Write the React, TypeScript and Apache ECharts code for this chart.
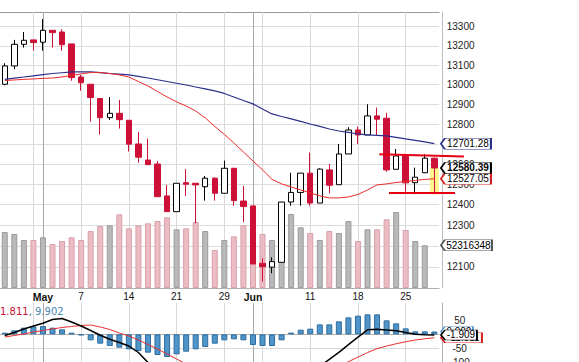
import React, { useEffect, useRef } from "react";
import * as echarts from "echarts";

const dates = ["04-25","04-26","04-27","04-30","05-01","05-02","05-03","05-04","05-07","05-08","05-09","05-10","05-11","05-14","05-15","05-16","05-17","05-18","05-21","05-22","05-23","05-24","05-25","05-29","05-30","05-31","06-01","06-04","06-05","06-06","06-07","06-08","06-11","06-12","06-13","06-14","06-15","06-18","06-19","06-20","06-21","06-22","06-25","06-26","06-27","06-28"];

const opens = [13002,13096,13208,13231,13219,13281,13272,13210,13039,13002,12929,12832,12854,12819,12700,12620,12600,12443,12366,12508,12505,12488,12530,12456,12579,12418,12394,12117,12099,12122,12413,12460,12555,12408,12571,12498,12650,12770,12745,12841,12829,12574,12645,12508,12557,12629];
const closes = [13096,13208,13229,13217,13281,13269,13206,13036,13010,12934,12832,12854,12822,12699,12634,12597,12439,12366,12505,12500,12497,12530,12456,12579,12420,12391,12114,12101,12125,12413,12460,12555,12408,12575,12495,12650,12770,12745,12841,12824,12571,12640,12507,12535,12629,12580.39];
const lows = [12997,13079,13191,13175,13175,13191,13175,13020,12969,12812,12747,12821,12777,12662,12607,12597,12439,12366,12366,12443,12310,12420,12420,12456,12395,12315,12114,12030,12070,12122,12395,12395,12395,12408,12456,12498,12650,12700,12745,12745,12562,12574,12464,12451,12557,12451];
const highs = [13110,13231,13272,13231,13340,13281,13286,13210,13050,13002,12929,12937,12922,12819,12760,12727,12615,12497,12505,12575,12505,12541,12535,12617,12579,12492,12394,12141,12146,12413,12557,12555,12657,12579,12600,12700,12784,12787,12900,12883,12857,12675,12645,12582,12649,12632];

const volumes = [68600000,66200000,58800000,58800000,62100000,53900000,57600000,62100000,58800000,69800000,76000000,76800000,90300000,73100000,76800000,79300000,82100000,86600000,71900000,73100000,80900000,69800000,46600000,58800000,63300000,77200000,73500000,66200000,58800000,82400000,90700000,74400000,67400000,58800000,69800000,67400000,82100000,57600000,71900000,71900000,84200000,93100000,71100000,57600000,52316348,null];

const maSlow = [13027,13033,13039,13045,13051,13057,13061,13065,13066,13065,13062,13057,13054,13050,13042,13034,13025,13016,13007,12998,12988,12978,12968,12955,12937,12919,12902,12876,12851,12838,12826,12813,12800,12788,12775,12765,12758,12750,12745,12743,12740,12733,12725,12718,12710,12701.28];
const maFast = [13021,13024,13027,13029,13032,13034,13039,13047,13055,13062,13062,13057,13050,13039,13016,12993,12965,12937,12912,12891,12866,12831,12788,12748,12705,12660,12615,12571,12524,12502,12487,12472,12458,12443,12433,12433,12438,12450,12472,12497,12502,12509,12514,12519,12524,12527.05];

const macdLine = [-4,6.5,18.8,29.3,38.8,52.1,55.6,43.3,29.3,13.5,-3,-17,-28.6,-40.9,-63.7,-98.8,-124,-148,-157,-165,-169,-170,-166,-158,-157,-165,-187,-197,-201,-182,-158,-144,-130,-112,-88,-63,-36,-10,16,18,15,12.5,6.5,0.5,-1,-1.909];
const signalLine = [-9.3,-4,1.2,8.2,13.5,18.8,24,27.5,31,32.8,25.8,17,4.7,-5.8,-19.8,-35.6,-51.4,-69,-86.5,-104,-116,-126,-133,-137,-140,-144,-150,-156,-160,-161,-159,-154,-146,-136,-122,-109,-96,-80,-64,-50,-41,-33,-26,-20,-15.5,-11.811];
const histogram = [5.8,14,23.4,28,29.2,23.4,17.5,5.8,-3.5,-21,-32.7,-40.9,-46.8,-52.6,-58.5,-64.3,-72.5,-79.5,-70.2,-60.8,-52.6,-44.4,-32.7,-21,-17.5,-21,-37.4,-40.9,-40.9,-21,6,16.4,19.9,35,35,45.6,59.6,65.5,70.2,70.2,49.1,38.6,21,10.5,10.5,9.902];

const tickDates = ["05-01","05-07","05-14","05-21","05-29","06-01","06-11","06-18","06-25"];
const tickLabels = ["May","7","14","21","29","Jun","11","18","25"];
const monthDates = ["05-01","06-01"];
const weekDates = ["04-30","05-07","05-14","05-21","05-29","06-04","06-11","06-18","06-25"];
const priceGridTicks = [12100,12200,12300,12400,12500,12600,12700,12800,12900,13000,13100,13200,13300];
const priceLabelTicks = [12100,12300,12400,12500,12600,12800,12900,13000,13100,13200,13300];
const macdLabelTicks = [50,-50,-100];
const macdGridTicks = [0,-50,-100];

const PRICE_MIN = 12000;
const PRICE_MAX = 13377;
const VOL_MAX = 338200000;
const MACD_MIN = -120;
const MACD_MAX = 110;

const trendLines = [
  { from: [39.24, 12649], to: [48.1, 12637] },
  { from: [40.25, 12457], to: [47.17, 12457] },
];
const highlight = { index: 45, top: 12580.39, bottom: 12451 };

const FONT = "'Liberation Sans', Arial, Helvetica, sans-serif";
const GRID_W = 439.1;
const TIP_DX = 6.6;

function tag(coord: any[], text: string, W: number, H: number, border: string, bold = false) {
  return {
    coord,
    symbol: `path://M0 ${H / 2} L4 0 L${W} 0 L${W} ${H} L4 ${H} Z`,
    symbolSize: [W, H],
    symbolOffset: [TIP_DX + W / 2, 0],
    itemStyle: { color: "#fff", borderColor: border, borderWidth: 1 },
    label: {
      show: true,
      position: "inside",
      formatter: text,
      color: "#000",
      fontSize: 10,
      fontFamily: FONT,
      fontWeight: bold ? "bold" : "normal",
      offset: [2, 0],
    },
  };
}

function vLines() {
  return {
    silent: true,
    z: 1,
    symbol: ["none", "none"],
    label: { show: false },
    data: [
      ...weekDates.map((d) => ({ xAxis: d, lineStyle: { color: "#d9d9d9", width: 1, type: "solid" } })),
      ...monthDates.map((d) => ({ xAxis: d, lineStyle: { color: "#a8a8a8", width: 1, type: "solid" } })),
    ],
  };
}

export default function App() {
  const ref = useRef<HTMLDivElement>(null);
  useEffect(() => {
    const el = ref.current!;
    const chart = echarts.init(el, null, { renderer: "svg" });
    const ln = Math.log;
    const last = dates[dates.length - 1];
    const upVol = { color: "#b9b9b9", borderColor: "#9c9c9c", borderWidth: 1 };
    const downVol = { color: "#ebbcc3", borderColor: "#d8a1aa", borderWidth: 1 };
    const candleData = dates.map((_, i) => [ln(opens[i]), ln(closes[i]), ln(lows[i]), ln(highs[i])]);
    const volData = volumes.map((v, i) =>
      v == null ? null : { value: v, itemStyle: closes[i] >= opens[i] ? upVol : downVol }
    );
    const lastVol = volumes[volumes.length - 2] as number;

    const option: any = {
      animation: false,
      backgroundColor: "#fff",
      textStyle: { fontFamily: FONT },
      grid: [
        { left: 0, top: 12, width: GRID_W, height: 276, outerBoundsMode: "none", containLabel: false },
        { left: 0, top: 303, width: GRID_W, height: (MACD_MAX - MACD_MIN) * 0.285, outerBoundsMode: "none", containLabel: false },
      ],
      xAxis: [
        {
          type: "category", gridIndex: 0, data: dates, boundaryGap: true,
          axisLine: { show: true, lineStyle: { color: "#b0b0b0" } },
          axisTick: { show: false },
          splitLine: { show: false },
          axisLabel: {
            interval: (_i: number, v: string) => tickDates.includes(v),
            formatter: (v: string) => {
              const k = tickDates.indexOf(v);
              if (k < 0) return "";
              return monthDates.includes(v) ? `{m|${tickLabels[k]}}` : tickLabels[k];
            },
            rich: { m: { fontWeight: "bold", fontSize: 10.5, color: "#111", fontFamily: FONT } },
            margin: 3, fontSize: 10, color: "#111", fontFamily: FONT,
          },
        },
        {
          type: "category", gridIndex: 0, position: "top", data: dates,
          axisLine: { show: true, lineStyle: { color: "#9a9a9a" } },
          axisTick: { show: false }, axisLabel: { show: false }, splitLine: { show: false },
        },
        {
          type: "category", gridIndex: 1, position: "top", data: dates,
          axisLine: { show: true, lineStyle: { color: "#b0b0b0" } },
          axisTick: { show: false }, axisLabel: { show: false }, splitLine: { show: false },
        },
      ],
      yAxis: [
        {
          type: "value", gridIndex: 0, position: "right", offset: 3.6,
          min: ln(PRICE_MIN), max: ln(PRICE_MAX),
          axisLine: { show: true, lineStyle: { color: "#bdbdbd" } },
          axisTick: { show: false, customValues: priceGridTicks.map(ln) },
          axisLabel: {
            customValues: priceLabelTicks.map(ln),
            formatter: (v: number) => String(Math.round(Math.exp(v))),
            margin: 4, fontSize: 10, color: "#222", fontFamily: FONT,
          },
          splitLine: { show: true, lineStyle: { color: "#dcdcdc", width: 1 } },
        },
        {
          type: "value", gridIndex: 0, min: 0, max: VOL_MAX, show: false,
          splitLine: { show: false },
        },
        {
          type: "value", gridIndex: 1, position: "right", offset: 3.6,
          min: MACD_MIN, max: MACD_MAX,
          axisLine: { show: true, lineStyle: { color: "#b0b0b0" } },
          axisTick: { show: false, customValues: macdGridTicks },
          axisLabel: {
            customValues: macdLabelTicks,
            align: "center", margin: 17, fontSize: 10, color: "#222", fontFamily: FONT,
          },
          splitLine: { show: true, lineStyle: { color: "#d6d6d6", width: 1 } },
        },
      ],
      series: [
        {
          type: "line", xAxisIndex: 0, yAxisIndex: 0, data: dates.map(() => null),
          showSymbol: false, silent: true, markLine: vLines(),
        },
        {
          type: "bar", xAxisIndex: 0, yAxisIndex: 1, data: volData, barWidth: 6, silent: true,
          markPoint: { z: 5, symbolKeepAspect: false, data: [tag([last, lastVol], String(lastVol), 51, 11, "#555")] },
        },
        {
          type: "candlestick", xAxisIndex: 0, yAxisIndex: 0, data: candleData, barWidth: 6, silent: true,
          itemStyle: { color: "#ffffff", color0: "#cc1037", borderColor: "#000000", borderColor0: "#cc1037", borderWidth: 1 },
          markPoint: { z: 6, symbolKeepAspect: false, data: [tag([last, ln(closes[closes.length - 1])], closes[closes.length - 1].toFixed(2), 50, 11, "#000", true)] },
        },
        {
          type: "line", xAxisIndex: 0, yAxisIndex: 0, data: maSlow.map(ln), showSymbol: false, symbol: "none", silent: true,
          lineStyle: { color: "#2b2f8c", width: 1.2 },
          markPoint: { z: 5, symbolKeepAspect: false, data: [tag([last, ln(maSlow[maSlow.length - 1])], maSlow[maSlow.length - 1].toFixed(2), 50, 11, "#2b2f8c")] },
        },
        {
          type: "line", xAxisIndex: 0, yAxisIndex: 0, data: maFast.map(ln), showSymbol: false, symbol: "none", silent: true,
          lineStyle: { color: "#ec2b2b", width: 1 },
          markPoint: { z: 5, symbolKeepAspect: false, data: [tag([last, ln(maFast[maFast.length - 1])], maFast[maFast.length - 1].toFixed(2), 50, 11, "#d42020")] },
        },
        {
          type: "line", xAxisIndex: 2, yAxisIndex: 2, data: dates.map(() => null),
          showSymbol: false, silent: true, markLine: vLines(),
        },
        {
          type: "bar", xAxisIndex: 2, yAxisIndex: 2, data: histogram, barWidth: 6, silent: true,
          itemStyle: { color: "#4f95c9", borderColor: "#2d6c9e", borderWidth: 1 },
          markPoint: { z: 5, symbolKeepAspect: false, data: [tag([last, histogram[histogram.length - 1]], String(histogram[histogram.length - 1]), 32, 10, "#4f95c9")] },
        },
        {
          type: "line", xAxisIndex: 2, yAxisIndex: 2, data: signalLine, showSymbol: false, symbol: "none", silent: true,
          lineStyle: { color: "#e53030", width: 1 },
          markPoint: { z: 6, symbolKeepAspect: false, data: [tag([last, signalLine[signalLine.length - 1]], String(signalLine[signalLine.length - 1]), 41, 10, "#d42020")] },
        },
        {
          type: "line", xAxisIndex: 2, yAxisIndex: 2, data: macdLine, showSymbol: false, symbol: "none", silent: true,
          lineStyle: { color: "#000", width: 1.5 },
          markPoint: { z: 7, symbolKeepAspect: false, data: [tag([last, macdLine[macdLine.length - 1]], String(macdLine[macdLine.length - 1]), 36, 10, "#000")] },
        },
      ],
    };
    chart.setOption(option);

    const finder = { xAxisIndex: 0, yAxisIndex: 0 };
    const p0 = chart.convertToPixel(finder, [0, ln(12500)]) as number[];
    const p1 = chart.convertToPixel(finder, [1, ln(12500)]) as number[];
    const step = p1[0] - p0[0];
    const X = (f: number) => p0[0] + f * step;
    const Y = (v: number) => (chart.convertToPixel(finder, [0, ln(v)]) as number[])[1];

    const elements: any[] = [
      {
        type: "rect", id: "hl", z: 1,
        shape: { x: X(highlight.index) - step * 0.47, y: Y(highlight.top), width: step * 0.94, height: Y(highlight.bottom) - Y(highlight.top) },
        style: { fill: "#fbf38e" },
      },
      ...trendLines.map((t, k) => ({
        type: "line", id: "tl" + k, z: 10,
        shape: { x1: X(t.from[0]), y1: Y(t.from[1]), x2: X(t.to[0]), y2: Y(t.to[1]) },
        style: { stroke: "#e60012", lineWidth: 2 },
      })),
      {
        type: "text", id: "legend", z: 10, x: 0, y: 311,
        style: {
          text: "{r|1.811}{g|, }{b|9.902}",
          fontSize: 10, fontFamily: "'DejaVu Sans', Verdana, sans-serif", verticalAlign: "middle",
          rich: {
            r: { fill: "#c8102e", fontSize: 10, fontFamily: "'DejaVu Sans', Verdana, sans-serif" },
            g: { fill: "#3d5a80", fontSize: 10, fontFamily: "'DejaVu Sans', Verdana, sans-serif" },
            b: { fill: "#4a8ab5", fontSize: 10, fontFamily: "'DejaVu Sans', Verdana, sans-serif" },
          },
        },
      },
    ];
    chart.setOption({ graphic: { elements } });

    return () => chart.dispose();
  }, []);
  return <div ref={ref} style={{ position: "fixed", left: 0, top: 0, width: 579, height: 362, background: "#fff" }} />;
}
